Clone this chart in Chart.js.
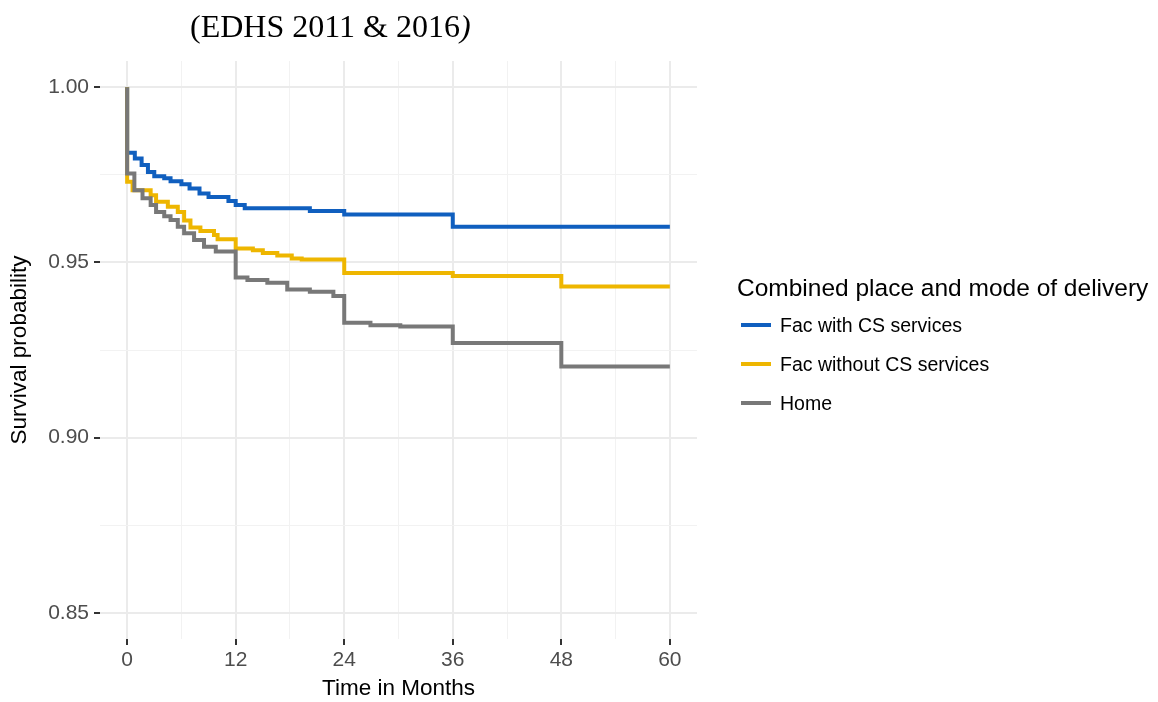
<!DOCTYPE html>
<html lang="en">
<head>
    <meta charset="UTF-8">
    <title>Survival probability by place and mode of delivery</title>
    <script src="https://cdn.jsdelivr.net/npm/chart.js"></script>
    <style>
        html, body { margin: 0; padding: 0; background: #fff; }
        #wrap { position: relative; width: 1158px; height: 702px; }
        #caption {
            position: absolute; left: 190px; top: 10px;
            font-family: "Liberation Serif", "Times New Roman", serif;
            font-size: 32px; line-height: 32px; color: #000; white-space: nowrap;
        }
        #legend { font-family: "Liberation Sans", Arial, sans-serif; color: #000; }
        .legend-title { position: absolute; left: 737px; top: 273px; font-size: 24.5px; line-height: 30px; white-space: nowrap; }
        .legend-item { position: absolute; left: 741px; height: 26px; line-height: 26px; font-size: 19.5px; white-space: nowrap; }
        .legend-key { display: inline-block; width: 30px; height: 4px; vertical-align: middle; margin-right: 9px; position: relative; top: -2px; }
    </style>
</head>
<body>
<div id="wrap">
    <canvas id="myChart" width="1158" height="702"></canvas>
    <div id="caption">(EDHS 2011 &amp; 2016<i>)</i></div>
    <div id="legend"></div>
</div>

<script>
    // Kaplan-Meier steps: time (months) and survival probability
    const timesCS = [0, 0, 0.85, 1.6, 2.3, 3.0, 4.1, 4.8, 6.0, 6.9, 8.0, 9.0, 11.2, 12.0, 13.0, 20.2, 24.0, 36.0, 60];
    const survCS  = [1.0, 0.9813, 0.9797, 0.9778, 0.9758, 0.9746, 0.9740, 0.9732, 0.9723, 0.9711, 0.9697, 0.9687, 0.9675, 0.9664, 0.9655, 0.9647, 0.9637, 0.9602, 0.9602];

    const timesNoCS = [0, 0, 0.6, 2.6, 3.2, 4.5, 5.6, 6.3, 7.0, 8.1, 9.6, 10.0, 12.0, 13.9, 15.0, 16.6, 18.2, 19.3, 24.0, 36.0, 48.0, 60];
    const survNoCS  = [1.0, 0.9730, 0.9706, 0.9692, 0.9673, 0.9659, 0.9644, 0.9620, 0.9600, 0.9590, 0.9578, 0.9566, 0.9540, 0.9535, 0.9527, 0.9520, 0.9511, 0.9508, 0.9470, 0.9461, 0.9431, 0.9431];

    const timesHome = [0, 0, 0.8, 1.7, 2.6, 3.2, 4.1, 4.8, 5.6, 6.3, 7.4, 8.5, 9.8, 12.0, 13.3, 15.5, 17.7, 20.2, 22.8, 24.0, 26.9, 30.2, 36.0, 48.0, 60];
    const survHome  = [1.0, 0.9754, 0.9706, 0.9683, 0.9664, 0.9644, 0.9632, 0.9621, 0.9602, 0.9583, 0.9564, 0.9545, 0.9531, 0.9457, 0.9450, 0.9442, 0.9423, 0.9416, 0.9404, 0.9328, 0.9321, 0.9317, 0.9270, 0.9203, 0.9203];

    const seriesNames  = ['Fac with CS services', 'Fac without CS services', 'Home'];
    const seriesColors = ['#105FBF', '#EEB600', '#787878'];
    const legendTitle  = 'Combined place and mode of delivery';

    // axis breaks
    const xTickValues  = [0, 12, 24, 36, 48, 60];
    const xMinorTicks  = [6, 18, 30, 42, 54];
    const yTickValues  = [0.85, 0.90, 0.95, 1.00];
    const yMinorTicks  = [0.875, 0.925, 0.975];

    const FONT = '"Liberation Sans", Arial, sans-serif';
    const isIn = (list, v) => list.some(t => Math.abs(t - v) < 1e-9);

    const toPoints = (xs, ys) => xs.map((x, i) => ({ x: x, y: ys[i] }));
    const seriesData = [toPoints(timesCS, survCS), toPoints(timesNoCS, survNoCS), toPoints(timesHome, survHome)];

    const gridOpts = (major) => ({
        color: ctx => isIn(major, ctx.tick.value) ? '#EBEBEB' : '#F2F2F2',
        lineWidth: ctx => isIn(major, ctx.tick.value) ? 2 : 1,
        tickColor: ctx => isIn(major, ctx.tick.value) ? '#333333' : 'rgba(0,0,0,0)',
        tickWidth: 2,
        tickLength: 6,
        drawTicks: true
    });

    const ctx = document.getElementById('myChart').getContext('2d');
    new Chart(ctx, {
        type: 'line',
        data: {
            datasets: seriesData.map((d, i) => ({
                label: seriesNames[i],
                data: d,
                borderColor: seriesColors[i],
                backgroundColor: seriesColors[i],
                borderWidth: 4,
                stepped: 'before',
                pointRadius: 0,
                fill: false,
                order: seriesData.length - 1 - i // Home drawn on top
            }))
        },
        options: {
            responsive: false,
            animation: false,
            layout: { padding: { top: 61, right: 461, left: 0, bottom: 0 } },
            plugins: {
                legend: { display: false },
                tooltip: { enabled: false }
            },
            scales: {
                x: {
                    type: 'linear',
                    min: -3,
                    max: 63,
                    afterBuildTicks: scale => {
                        scale.ticks = [...xTickValues, ...xMinorTicks].sort((a, b) => a - b).map(v => ({ value: v }));
                    },
                    afterFit: scale => { scale.height = 63; },
                    border: { display: false },
                    grid: gridOpts(xTickValues),
                    ticks: {
                        autoSkip: false,
                        maxRotation: 0,
                        padding: 3,
                        color: '#4D4D4D',
                        font: { family: FONT, size: 21 },
                        callback: v => isIn(xTickValues, v) ? String(v) : ''
                    },
                    title: {
                        display: true,
                        text: 'Time in Months',
                        color: '#000',
                        font: { family: FONT, size: 22.5 },
                        padding: { top: 0, bottom: 0 }
                    }
                },
                y: {
                    type: 'linear',
                    min: 0.8425,
                    max: 1.0075,
                    afterBuildTicks: scale => {
                        scale.ticks = [...yTickValues, ...yMinorTicks].sort((a, b) => a - b).map(v => ({ value: v }));
                    },
                    afterFit: scale => { scale.width = 100; },
                    border: { display: false },
                    grid: gridOpts(yTickValues),
                    ticks: {
                        autoSkip: false,
                        padding: 5,
                        color: '#4D4D4D',
                        font: { family: FONT, size: 21 },
                        callback: v => isIn(yTickValues, v) ? v.toFixed(2) : ''
                    },
                    title: {
                        display: true,
                        text: 'Survival probability',
                        color: '#000',
                        font: { family: FONT, size: 22.5 },
                        padding: { top: 6, bottom: 0 }
                    }
                }
            }
        }
    });

    // legend, built from the series names and colours
    const legend = document.getElementById('legend');
    const title = document.createElement('div');
    title.className = 'legend-title';
    title.textContent = legendTitle;
    legend.appendChild(title);
    seriesNames.forEach((name, i) => {
        const item = document.createElement('div');
        item.className = 'legend-item';
        item.style.top = (312 + i * 39) + 'px';
        const key = document.createElement('span');
        key.className = 'legend-key';
        key.style.background = seriesColors[i];
        item.appendChild(key);
        item.appendChild(document.createTextNode(name));
        legend.appendChild(item);
    });
</script>
</body>
</html>
